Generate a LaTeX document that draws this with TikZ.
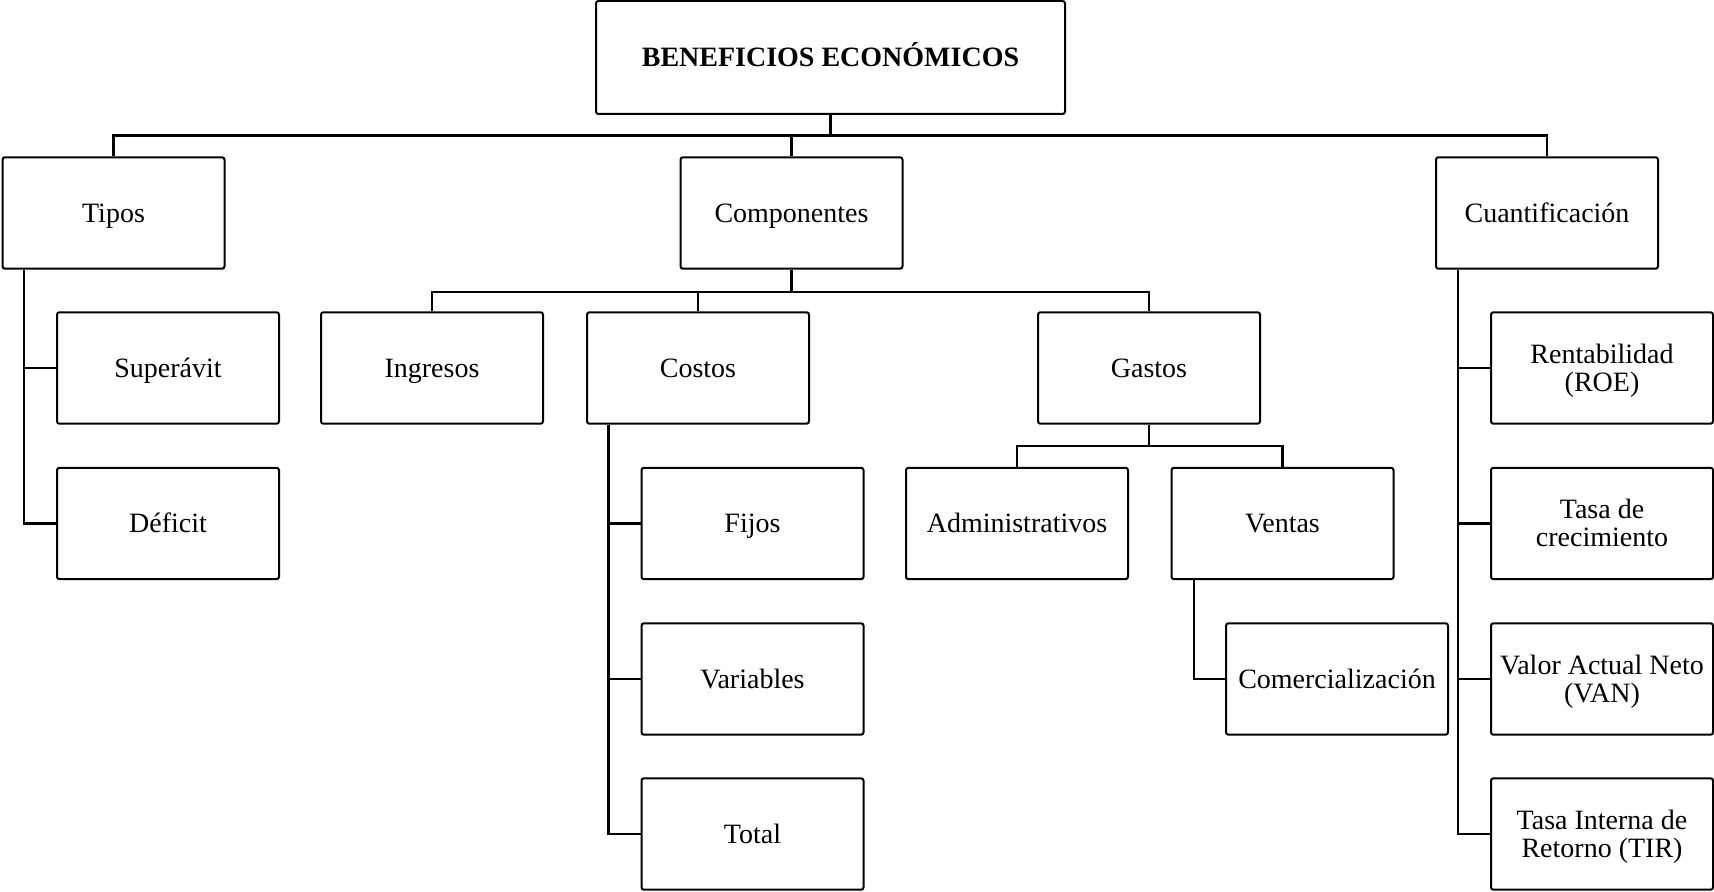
\documentclass[tikz,border=0pt]{standalone}
\usepackage{fontspec}
\setmainfont{Liberation Serif}
\newcommand\twoln[2]{\vbox{\fontsize{14}{14}\selectfont\halign{\hfil##\hfil\cr#1\cr#2\cr}}}
\begin{document}
\begin{tikzpicture}[x=0.5pt,y=-0.5pt,
  box/.style={draw, line width=1pt, rounded corners=1.2pt, minimum width=111pt,
    minimum height=55.7pt, inner sep=0pt,
    font=\fontsize{14}{14}\selectfont},
  one/.style={box, text height=9.4pt, text depth=0pt},
  two/.style={box, text height=23.4pt, text depth=0pt},
  conn/.style={line width=1.3pt}]
\useasboundingbox (0,0) rectangle (1714,892);

% top
\node[one, minimum width=234.5pt, minimum height=56.5pt, font=\fontsize{14}{14}\selectfont\bfseries] (top) at (830.5,57.5) {BENEFICIOS ECON\'OMICOS};

% level 1
\node[one] (tipos) at (113.5,213) {Tipos};
\node[one] (comp) at (791.5,213) {Componentes};
\node[one] (cuant) at (1547,213) {Cuantificaci\'on};

% Tipos children
\node[one] (sup) at (168,368) {Super\'avit};
\node[one] (def) at (168,523.5) {D\'eficit};

% Componentes children
\node[one] (ing) at (432,368) {Ingresos};
\node[one] (cos) at (698,368) {Costos};
\node[one] (gas) at (1149,368) {Gastos};

% Costos children
\node[one] (fij) at (752.5,523.5) {Fijos};
\node[one] (var) at (752.5,679) {Variables};
\node[one] (tot) at (752.5,834) {Total};

% Gastos children
\node[one] (adm) at (1017,523.5) {Administrativos};
\node[one] (ven) at (1282.5,523.5) {Ventas};
\node[one] (com) at (1337,679) {Comercializaci\'on};

% Cuantificacion children
\node[two] (roe) at (1602,368) {\twoln{Rentabilidad}{(ROE)}};
\node[two] (tc) at (1602,523.5) {\twoln{Tasa de}{crecimiento}};
\node[two] (van) at (1602,679) {\twoln{Valor Actual Neto}{(VAN)}};
\node[two] (tir) at (1602,834) {\twoln{Tasa Interna de}{Retorno (TIR)}};

% bus coordinates
\coordinate (b1) at (0,135.5);
\coordinate (b2) at (0,292);
\coordinate (b3) at (0,446);
\coordinate (s1) at ([xshift=11.3pt]tipos.south west);
\coordinate (s2) at ([xshift=11.3pt]cos.south west);
\coordinate (s3) at ([xshift=11.8pt]ven.south west);
\coordinate (s4) at ([xshift=11.5pt]cuant.south west);

% top level connectors
\draw[conn] (top.south) -- (top.south |- b1);
\draw[conn] (tipos.north) |- (cuant.north |- b1) -- (cuant.north);
\draw[conn] (comp.north) -- (comp.north |- b1);

% Tipos side bus
\draw[conn] (s1) |- (def.west);
\draw[conn] (sup.west) -- (sup.west -| s1);

% Componentes
\draw[conn] (comp.south) -- (comp.south |- b2);
\draw[conn] (ing.north) |- (gas.north |- b2) -- (gas.north);
\draw[conn] (cos.north) -- (cos.north |- b2);

% Costos side bus
\draw[conn] (s2) |- (tot.west);
\draw[conn] (var.west) -- (var.west -| s2);
\draw[conn] (fij.west) -- (fij.west -| s2);

% Gastos
\draw[conn] (gas.south) -- (gas.south |- b3);
\draw[conn] (adm.north) |- (ven.north |- b3) -- (ven.north);

% Ventas side
\draw[conn] (s3) |- (com.west);

% Cuantificacion side bus
\draw[conn] (s4) |- (tir.west);
\draw[conn] (van.west) -- (van.west -| s4);
\draw[conn] (tc.west) -- (tc.west -| s4);
\draw[conn] (roe.west) -- (roe.west -| s4);
\end{tikzpicture}
\end{document}
